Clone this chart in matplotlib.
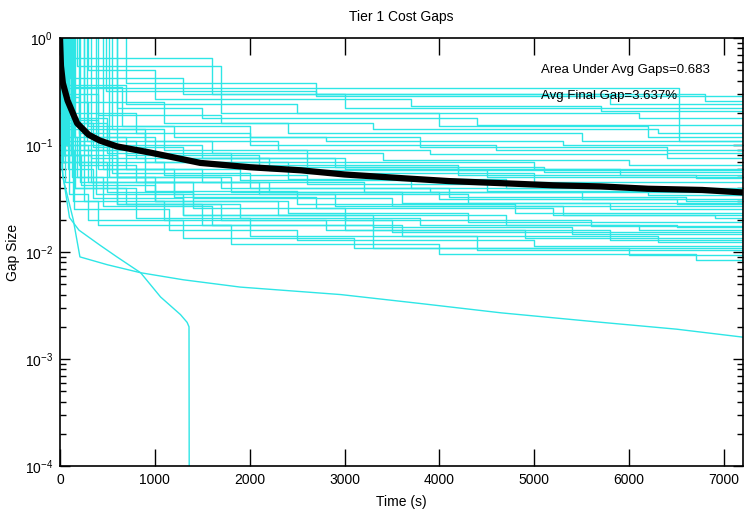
import matplotlib
matplotlib.use("Agg")
import matplotlib.pyplot as plt
import numpy as np
from matplotlib.ticker import LogLocator, FixedLocator, NullFormatter

# ---- data ----
T_END = 7200

step_times = [
    [0, 15, 6530],
    [0, 480, 2700],
    [0, 110, 1300, 6800],
    [0, 300, 1000, 3700, 5700],
    [0, 40, 700, 2500, 6100],
    [0, 600, 1500, 4400],
    [0, 60, 400, 1700, 3300, 6300],
    [0, 250, 1100, 2400, 5500],
    [0, 30, 300, 1200, 2800, 5300],
    [0, 150, 800, 2000, 4600],
    [0, 20, 200, 900, 2300, 3900, 6400],
    [0, 90, 500, 1600, 3400, 6000],
    [0, 50, 350, 1300, 2900, 5100],
    [0, 10, 150, 700, 2100, 4200, 6700],
    [0, 400, 1000, 2600, 5000],
    [0, 25, 250, 1100, 2600, 4500, 6200],
    [0, 70, 400, 1500, 3200, 5500],
    [0, 35, 200, 800, 2200, 4000, 6500],
    [0, 120, 600, 1800, 3600, 5800],
    [0, 15, 180, 900, 2500, 4800],
    [0, 60, 300, 1200, 2700, 5200, 6900],
    [0, 45, 220, 1000, 2400, 4300],
    [0, 100, 500, 1400, 3000, 5600],
    [0, 20, 150, 700, 1900, 3800, 6100],
    [0, 80, 350, 1300, 3300, 5400],
    [0, 30, 250, 1100, 2800, 4900],
    [0, 130, 450, 1600, 3600, 6300],
    [0, 55, 150, 1150, 2500, 5000],
    [0, 160, 800, 2000, 4400],
    [0, 90, 300, 1300, 3100, 6000],
    [0, 140, 400, 1800, 4000, 6700],
    [0, 200, 900, 2400, 4700],
    [0, 10, 120, 600, 1700, 3900],
    [0, 75, 550, 2000, 4100, 6600],
    [0, 40, 330, 1400, 3500],
    [0, 5, 100, 400, 1500, 3000, 5900],
    [0, 700, 2700, 5800],
    [0, 100, 1600, 3000],
    [0, 180, 1700, 4000, 6200],
    [0, 550, 1100, 2600, 5000],
    [0, 250, 700, 1900, 3700, 6000],
    [0, 330, 900, 2100, 4300],
    [0, 450, 1200, 2900, 5300],
    [0, 520, 1000, 2300, 4700, 6500],
    [0, 210, 600, 1700, 3500],
    [0, 380, 1300, 3000, 5800],
    [0, 600, 1500, 3300],
    [0, 280, 800, 2200, 4500],
    [0, 130, 650, 2000, 3800, 6400],
    [0, 65, 500, 1800, 4200],
]
step_gaps = [
    [1.5, 0.34, 0.11],
    [1.5, 0.32, 0.29],
    [1.5, 0.42, 0.30, 0.26],
    [1.5, 0.50, 0.27, 0.23, 0.21],
    [1.5, 0.36, 0.24, 0.20, 0.18],
    [1.5, 0.22, 0.18, 0.155],
    [1.5, 0.30, 0.19, 0.16, 0.14, 0.13],
    [1.5, 0.25, 0.16, 0.13, 0.11],
    [1.5, 0.25, 0.15, 0.12, 0.11, 0.10],
    [1.5, 0.20, 0.13, 0.10, 0.09],
    [1.5, 0.28, 0.14, 0.11, 0.09, 0.082, 0.076],
    [1.5, 0.18, 0.11, 0.085, 0.072, 0.065],
    [1.5, 0.16, 0.095, 0.075, 0.062, 0.056],
    [1.5, 0.22, 0.12, 0.08, 0.062, 0.053, 0.049],
    [1.5, 0.12, 0.07, 0.055, 0.045],
    [1.5, 0.14, 0.07, 0.052, 0.043, 0.037, 0.034],
    [1.5, 0.11, 0.06, 0.045, 0.036, 0.031],
    [1.5, 0.15, 0.065, 0.045, 0.036, 0.031, 0.028],
    [1.5, 0.09, 0.05, 0.036, 0.029, 0.025],
    [1.5, 0.12, 0.05, 0.037, 0.028, 0.023],
    [1.5, 0.10, 0.045, 0.033, 0.026, 0.022, 0.021],
    [1.5, 0.08, 0.042, 0.030, 0.023, 0.019],
    [1.5, 0.07, 0.036, 0.026, 0.020, 0.0175],
    [1.5, 0.09, 0.04, 0.028, 0.021, 0.018, 0.016],
    [1.5, 0.06, 0.032, 0.022, 0.017, 0.0147],
    [1.5, 0.07, 0.03, 0.020, 0.016, 0.0135],
    [1.5, 0.05, 0.027, 0.018, 0.014, 0.0124],
    [1.5, 0.045, 0.025, 0.016, 0.013, 0.0114],
    [1.5, 0.04, 0.021, 0.014, 0.0105],
    [1.5, 0.035, 0.02, 0.0135, 0.011, 0.0094],
    [1.5, 0.03, 0.018, 0.012, 0.0095, 0.0085],
    [1.5, 0.13, 0.07, 0.048, 0.040],
    [1.5, 0.19, 0.08, 0.05, 0.040, 0.036],
    [1.5, 0.10, 0.055, 0.040, 0.033, 0.030],
    [1.5, 0.08, 0.045, 0.032, 0.027],
    [1.5, 0.45, 0.17, 0.10, 0.075, 0.060, 0.052],
    [1.5, 0.38, 0.30, 0.24],
    [1.5, 0.65, 0.30, 0.22],
    [1.5, 0.55, 0.20, 0.15, 0.12],
    [1.5, 0.14, 0.09, 0.07, 0.060],
    [1.5, 0.09, 0.06, 0.047, 0.040, 0.038],
    [1.5, 0.075, 0.045, 0.035, 0.029],
    [1.5, 0.06, 0.035, 0.027, 0.022],
    [1.5, 0.05, 0.03, 0.022, 0.018, 0.017],
    [1.5, 0.045, 0.028, 0.020, 0.0155],
    [1.5, 0.035, 0.022, 0.016, 0.013],
    [1.5, 0.028, 0.018, 0.011],
    [1.5, 0.11, 0.075, 0.058, 0.050],
    [1.5, 0.35, 0.15, 0.12, 0.095, 0.085],
    [1.5, 0.16, 0.085, 0.065, 0.058],
]

# two runs that decrease gradually
smooth_times = [
    [0, 30, 140, 210, 500, 850, 1300, 1900, 2960, 3800, 4650, 5710, 6500, 7200],
    [0, 20, 100, 200, 420, 600, 850, 1060, 1270, 1340, 1360, 1365],
]
smooth_gaps = [
    [1.5, 0.05, 0.020, 0.009, 0.0076, 0.0064, 0.0055, 0.0047, 0.0040, 0.0033, 0.0027, 0.0022, 0.0019, 0.0016],
    [1.5, 0.06, 0.021, 0.016, 0.0116, 0.009, 0.0064, 0.0038, 0.0026, 0.0022, 0.0020, 1e-6],
]

avg_times = [0, 10, 30, 80, 180, 300, 420, 600, 950, 1480, 2000, 2540, 3000, 3600, 4100, 4650, 5200, 5700, 6200, 6770, 7200]
avg_gaps = [1.0, 0.55, 0.38, 0.26, 0.16, 0.125, 0.11, 0.097, 0.085, 0.068, 0.062, 0.058, 0.053, 0.049, 0.046, 0.044, 0.042, 0.041, 0.039, 0.038, 0.036]

x_ticks = [0, 1000, 2000, 3000, 4000, 5000, 6000, 7000]
y_ticks = [1e-4, 1e-3, 1e-2, 1e-1, 1e0]
y_ticklabels = [r"$10^{-4}$", r"$10^{-3}$", r"$10^{-2}$", r"$10^{-1}$", r"$10^{0}$"]

title = "Tier 1 Cost Gaps"
xlabel = "Time (s)"
ylabel = "Gap Size"
note1 = "Area Under Avg Gaps=0.683"
note2 = "Avg Final Gap=3.637%"

# ---- drawing ----
main_font = 'Liberation Sans'
plt.rcParams['font.family'] = [main_font, 'DejaVu Sans']
plt.rcParams['mathtext.fontset'] = 'custom'
plt.rcParams['mathtext.rm'] = main_font
plt.rcParams['mathtext.it'] = main_font

fig = plt.figure(figsize=(7.45, 5.19), dpi=100)
ax = fig.add_axes([60 / 745, 1 - 466 / 519, 683 / 745, 428 / 519])

cyan = '#2ee6e6'
for ts, gs in zip(step_times, step_gaps):
    ts2 = list(ts) + [T_END]
    gs2 = list(gs) + [gs[-1]]
    ax.step(ts2, gs2, where='post', color=cyan, lw=1.0)
for ts, gs in zip(smooth_times, smooth_gaps):
    ax.plot(ts, gs, color=cyan, lw=1.0)

ax.plot(avg_times, avg_gaps, color='black', lw=4.5, solid_capstyle='butt')

ax.set_yscale('log')
ax.set_xlim(0, T_END)
ax.set_ylim(1e-4, 1e0)

ax.xaxis.set_major_locator(FixedLocator(x_ticks))
ax.set_xticklabels([str(v) for v in x_ticks], fontsize=10)
ax.yaxis.set_major_locator(FixedLocator(y_ticks))
ax.set_yticklabels(y_ticklabels, fontsize=10)
ax.yaxis.set_minor_locator(LogLocator(base=10, subs=np.arange(2, 10)))
ax.yaxis.set_minor_formatter(NullFormatter())

ax.tick_params(axis='x', which='major', direction='in', length=12, width=1, top=True, bottom=True)
ax.tick_params(axis='y', which='major', direction='in', length=7, width=1, left=True, right=True)
ax.tick_params(axis='y', which='minor', direction='in', length=4, width=1, left=True, right=True)
ax.tick_params(axis='both', which='major', pad=5)

for s in ax.spines.values():
    s.set_linewidth(1.2)

ax.set_title(title, fontsize=10, pad=12)
ax.set_xlabel(xlabel, fontsize=10, labelpad=6)
ax.set_ylabel(ylabel, fontsize=10)
ax.yaxis.set_label_coords(-0.058, 0.5)

ax.text(5074, 0.50, note1, fontsize=9.5, va='center', ha='left')
ax.text(5074, 0.285, note2, fontsize=9.5, va='center', ha='left')

fig.savefig('out.png', dpi=100)
